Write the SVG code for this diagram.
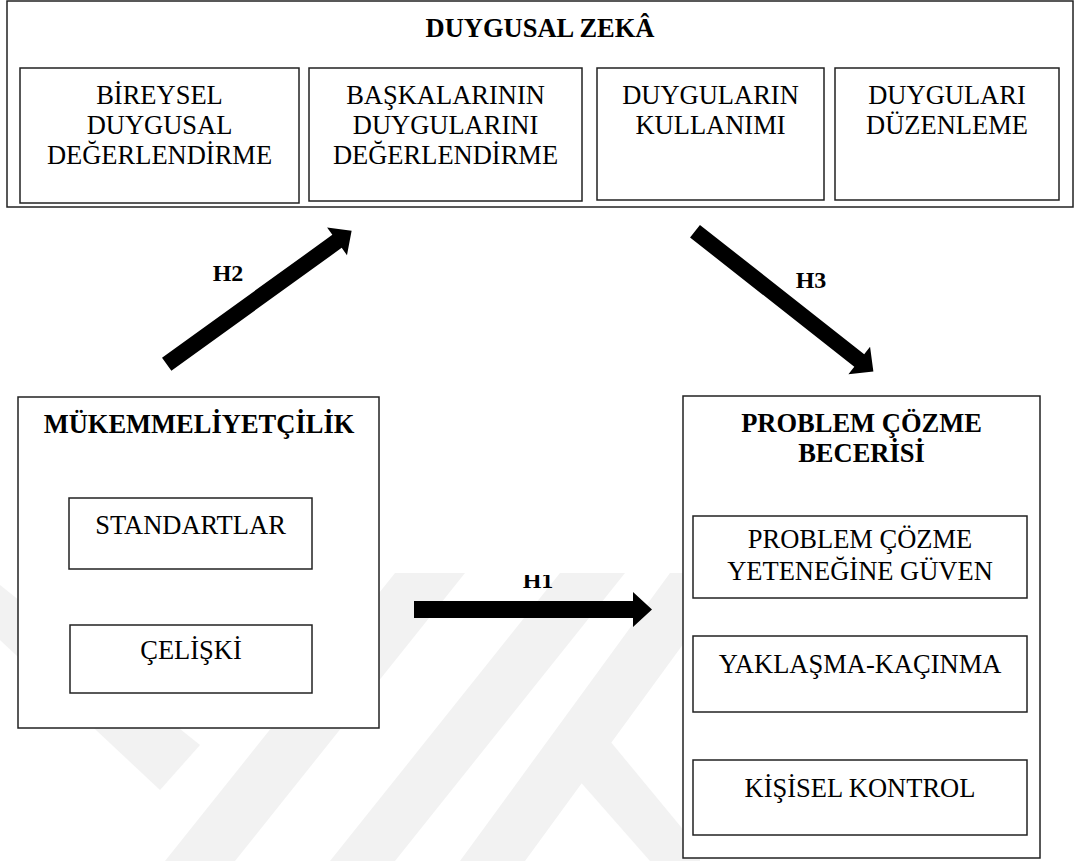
<svg xmlns="http://www.w3.org/2000/svg" width="1075" height="861" viewBox="0 0 1075 861">
  <style>
    .box { fill: #ffffff; stroke: #222222; stroke-width: 1.5; }
    .t { font-family: "Liberation Serif", "Times New Roman", serif; font-size: 26.5px; fill: #000000; text-anchor: middle; }
    .b { font-weight: bold; }
    .lbl { font-family: "Liberation Serif", "Times New Roman", serif; font-size: 24px; font-weight: bold; fill: #000000; text-anchor: middle; }
    .arrow { fill: #000000; }
    .wm { fill: #f2f2f2; }
  </style>
  <defs>
    <clipPath id="wmclip"><rect x="0" y="573" width="700" height="288"/></clipPath>
    <clipPath id="h1clip"><rect x="500" y="575" width="80" height="30"/></clipPath>
  </defs>
  <rect x="0" y="0" width="1075" height="861" fill="#ffffff"/>

  <g id="watermark" clip-path="url(#wmclip)">
    <polygon class="wm" points="0,585 0,640 160,790 200,745"/>
    <polygon class="wm" points="165,861 235,861 465,573 395,573"/>
    <polygon class="wm" points="330,861 395,861 625,573 560,573"/>
    <polygon class="wm" points="460,861 525,861 735,573 670,573"/>
    <polygon class="wm" points="570,770 605,735 700,850 700,861 650,861"/>
  </g>

  <g id="duygusal-zeka">
    <rect class="box" x="7" y="1" width="1066" height="206"/>
    <text class="t b" x="540" y="37">DUYGUSAL ZEKÂ</text>
  </g>
  <g id="bireysel">
    <rect class="box" x="20" y="68" width="279" height="135"/>
    <text class="t" x="159.5" y="104">BİREYSEL</text>
    <text class="t" x="159.5" y="134">DUYGUSAL</text>
    <text class="t" x="159.5" y="164">DEĞERLENDİRME</text>
  </g>
  <g id="baskalarinin">
    <rect class="box" x="309" y="68" width="273" height="133"/>
    <text class="t" x="445.5" y="104">BAŞKALARININ</text>
    <text class="t" x="445.5" y="134">DUYGULARINI</text>
    <text class="t" x="445.5" y="164">DEĞERLENDİRME</text>
  </g>
  <g id="kullanimi">
    <rect class="box" x="597" y="68" width="227" height="132"/>
    <text class="t" x="710.5" y="104">DUYGULARIN</text>
    <text class="t" x="710.5" y="134">KULLANIMI</text>
  </g>
  <g id="duzenleme">
    <rect class="box" x="835" y="68" width="224" height="132"/>
    <text class="t" x="947" y="104">DUYGULARI</text>
    <text class="t" x="947" y="134">DÜZENLEME</text>
  </g>

  <g id="mukemmeliyetcilik">
    <rect class="box" x="18" y="397" width="361" height="331"/>
    <text class="t b" x="199" y="433">MÜKEMMELİYETÇİLİK</text>
  </g>
  <g id="standartlar">
    <rect class="box" x="69" y="498" width="243" height="71"/>
    <text class="t" x="190.5" y="534">STANDARTLAR</text>
  </g>
  <g id="celiski">
    <rect class="box" x="70" y="625" width="242" height="68"/>
    <text class="t" x="191" y="659">ÇELİŞKİ</text>
  </g>

  <g id="problem-cozme-becerisi">
    <rect class="box" x="683" y="396" width="357" height="462"/>
    <text class="t b" x="861.5" y="432">PROBLEM ÇÖZME</text>
    <text class="t b" x="861.5" y="462">BECERİSİ</text>
  </g>
  <g id="guven">
    <rect class="box" x="693" y="516" width="334" height="82"/>
    <text class="t" x="860" y="548">PROBLEM ÇÖZME</text>
    <text class="t" x="860" y="580">YETENEĞİNE GÜVEN</text>
  </g>
  <g id="yaklasma">
    <rect class="box" x="693" y="636" width="334" height="76"/>
    <text class="t" x="860" y="673">YAKLAŞMA-KAÇINMA</text>
  </g>
  <g id="kontrol">
    <rect class="box" x="693" y="760" width="334" height="75"/>
    <text class="t" x="860" y="797">KİŞİSEL KONTROL</text>
  </g>

  <g id="connectors">
    <path class="arrow" transform="translate(166.7,364.2) rotate(-35.8)" d="M0,-8 L210,-8 L210,-17 L228,0 L210,17 L210,8 L0,8 Z"/>
    <text class="lbl" x="228" y="281">H2</text>
    <path class="arrow" transform="translate(695,231.2) rotate(38.2)" d="M0,-8 L209,-8 L209,-17.5 L227,0 L209,17.5 L209,8 L0,8 Z"/>
    <text class="lbl" x="811" y="288">H3</text>
    <path class="arrow" d="M414,601 L633,601 L633,592 L652,609.5 L633,627 L633,618 L414,618 Z"/>
    <text class="lbl" x="538" y="588" clip-path="url(#h1clip)">H1</text>
  </g>
</svg>
